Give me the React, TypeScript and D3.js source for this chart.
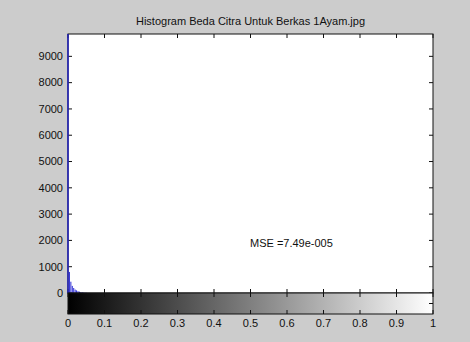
import React from "react";
import * as d3 from "d3";

const titleText = "Histogram Beda Citra Untuk Berkas 1Ayam.jpg";
const annotationText = "MSE =7.49e-005";
const binCount = 256;
// nonzero histogram bins (bin index, count)
const binIndex = [0, 1, 2, 3, 4, 5, 6, 7, 8, 9, 10, 11, 12, 13];
const binCounts = [9850, 800, 430, 270, 190, 130, 100, 70, 50, 35, 25, 15, 10, 6];
const yTicks = [0, 1000, 2000, 3000, 4000, 5000, 6000, 7000, 8000, 9000];
const xTicks = [0, 0.1, 0.2, 0.3, 0.4, 0.5, 0.6, 0.7, 0.8, 0.9, 1];
const xTickLabels = ["0", "0.1", "0.2", "0.3", "0.4", "0.5", "0.6", "0.7", "0.8", "0.9", "1"];
const yMax = 9850;

export default function App() {
  const W = 470, H = 342;
  const left = 68, right = 433, top = 34, zero = 293, cbBottom = 314;
  const x = d3.scaleLinear().domain([0, 1]).range([left, right]);
  const y = d3.scaleLinear().domain([0, yMax]).range([zero, top]);
  const tl = 4;
  const font = "'Liberation Sans', Arial, Helvetica, sans-serif";
  const stemColor = "#2a2ad4";
  const axisColor = "#111";

  return (
    <div style={{ position: "fixed", left: 0, top: 0 }}>
      <svg width={W} height={H} style={{ display: "block" }}>
        <defs>
          <linearGradient id="gray" x1="0" x2="1" y1="0" y2="0">
            <stop offset="0" stopColor="#000" />
            <stop offset="1" stopColor="#fff" />
          </linearGradient>
        </defs>
        <rect x={0} y={0} width={W} height={H} fill="#cccccc" />
        {/* histogram axes */}
        <rect x={left} y={top} width={right - left} height={zero - top} fill="#fff" />
        <text x={(left + right) / 2} y={25} textAnchor="middle" fontFamily={font} fontSize={11} fill="#111">
          {titleText}
        </text>
        {/* ticks top & bottom of histogram */}
        {xTicks.map((t, i) => (
          <g key={"xt" + i}>
            <line x1={x(t)} x2={x(t)} y1={top} y2={top + tl} stroke={axisColor} strokeWidth={1} />
            <line x1={x(t)} x2={x(t)} y1={zero} y2={zero - tl} stroke={axisColor} strokeWidth={1} />
          </g>
        ))}
        {yTicks.map((t, i) => (
          <g key={"yt" + i}>
            <line x1={left} x2={left + tl} y1={y(t)} y2={y(t)} stroke={axisColor} strokeWidth={1} />
            <line x1={right} x2={right - tl} y1={y(t)} y2={y(t)} stroke={axisColor} strokeWidth={1} />
            <text x={left - 5} y={y(t)} dy="0.35em" textAnchor="end" fontFamily={font} fontSize={11} fill="#111">
              {t}
            </text>
          </g>
        ))}
        {/* stems */}
        {binIndex.map((b, i) => (
          <line
            key={"s" + i}
            x1={x(b / (binCount - 1))}
            x2={x(b / (binCount - 1))}
            y1={y(0)}
            y2={y(binCounts[i])}
            stroke={stemColor}
            strokeWidth={1}
          />
        ))}
        <rect x={left} y={top} width={right - left} height={zero - top} fill="none" stroke={axisColor} strokeWidth={1} />
        <line x1={left} x2={left} y1={top} y2={zero} stroke={stemColor} strokeWidth={1.2} />
        <text x={250} y={243} dy="0.35em" fontFamily={font} fontSize={11} fill="#111">
          {annotationText}
        </text>
        {/* colorbar */}
        <rect x={left} y={zero} width={right - left} height={cbBottom - zero} fill="url(#gray)" />
        {xTicks.map((t, i) => (
          <g key={"cb" + i}>
            <line x1={x(t)} x2={x(t)} y1={zero} y2={zero + tl} stroke={axisColor} strokeWidth={1} />
            <line x1={x(t)} x2={x(t)} y1={cbBottom} y2={cbBottom - tl} stroke={axisColor} strokeWidth={1} />
            <text x={x(t)} y={323} dy="0.35em" textAnchor="middle" fontFamily={font} fontSize={11} fill="#111">
              {xTickLabels[i]}
            </text>
          </g>
        ))}
        <line x1={right} x2={right - tl} y1={(zero + cbBottom) / 2} y2={(zero + cbBottom) / 2} stroke={axisColor} strokeWidth={1} />
        <rect x={left} y={zero} width={right - left} height={cbBottom - zero} fill="none" stroke={axisColor} strokeWidth={1} />
      </svg>
    </div>
  );
}
